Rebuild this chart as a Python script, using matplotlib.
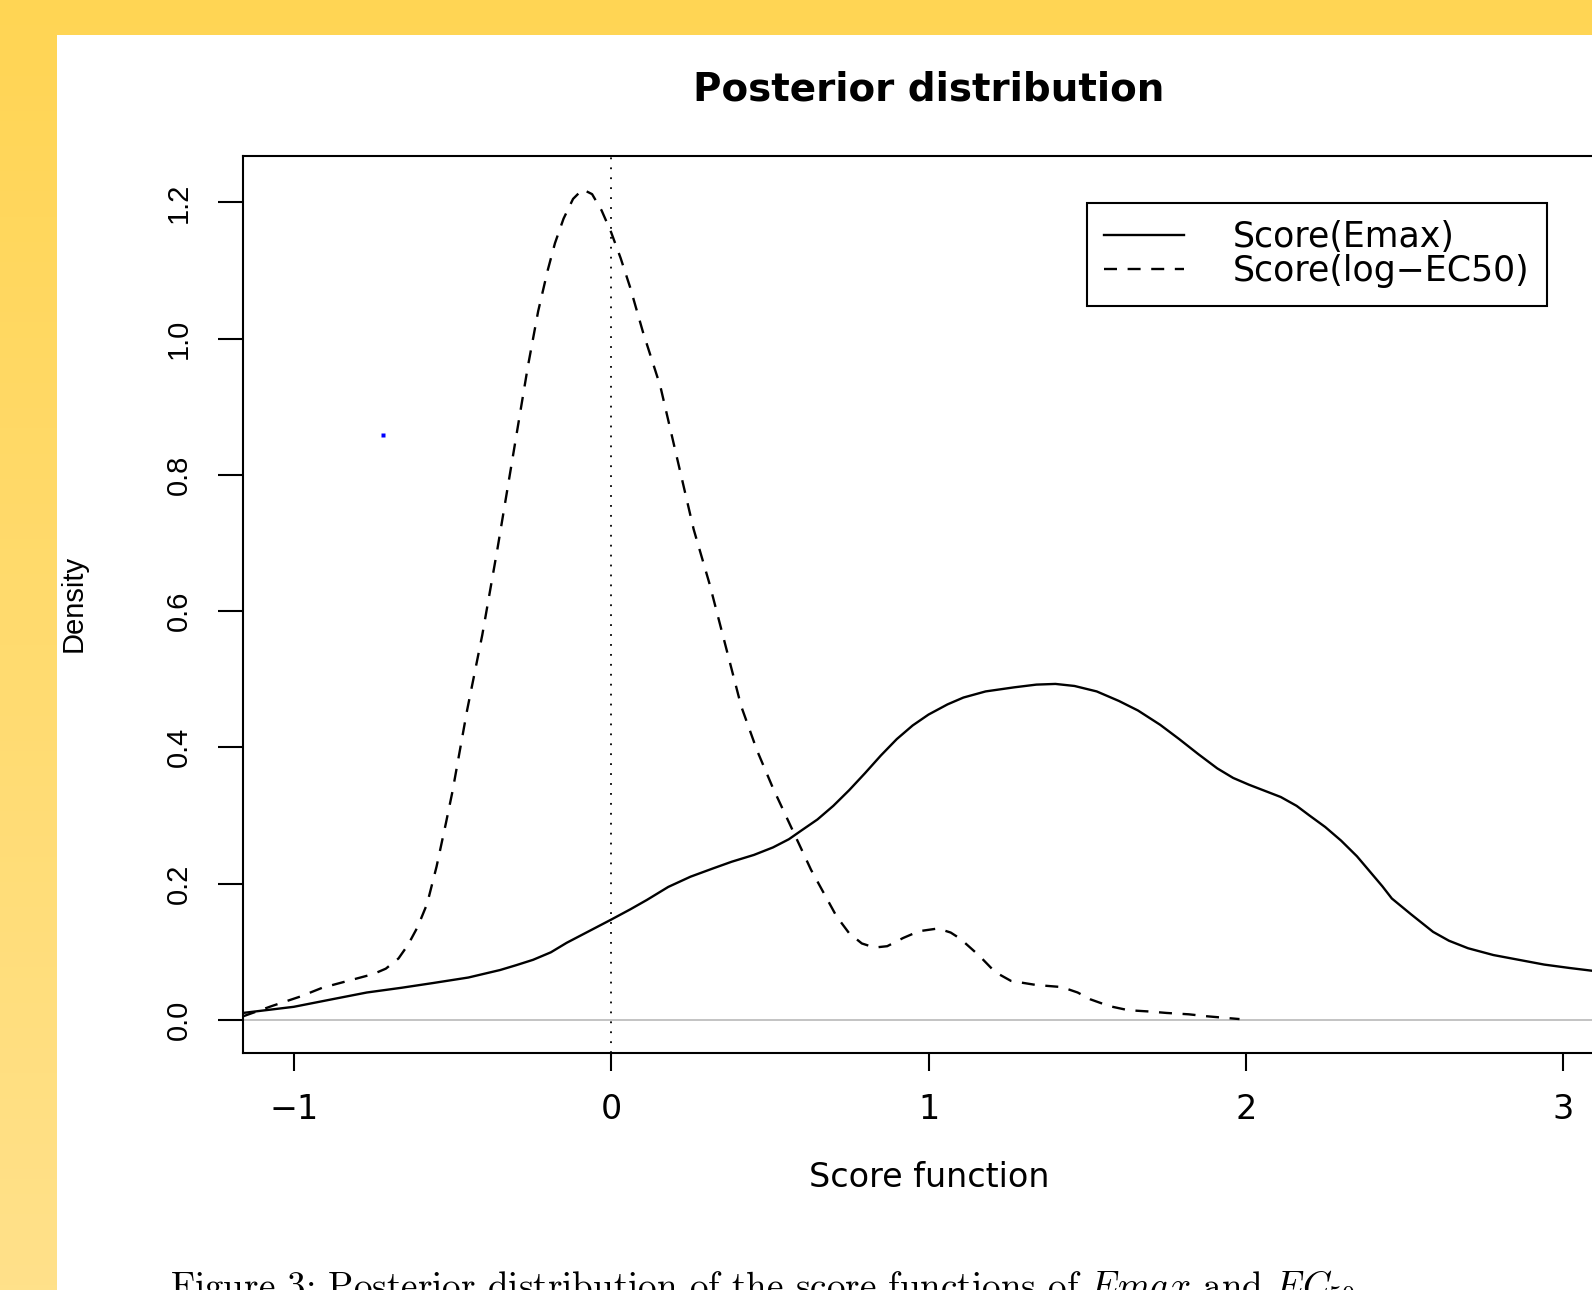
import numpy as np
import matplotlib
matplotlib.use("Agg")
import matplotlib.pyplot as plt
from matplotlib import font_manager
from matplotlib.patches import Rectangle

emax_x = [-1.16, -1.0, -0.88, -0.77, -0.66, -0.56, -0.45, -0.35, -0.30, -0.246,
          -0.19, -0.14, -0.07, 0.0, 0.06, 0.113, 0.18, 0.25, 0.32, 0.38, 0.45,
          0.51, 0.56, 0.60, 0.65, 0.70, 0.75, 0.80, 0.85, 0.90, 0.95, 1.00,
          1.06, 1.11, 1.18, 1.27, 1.34, 1.40, 1.46, 1.53, 1.60, 1.66, 1.73,
          1.79, 1.85, 1.91, 1.96, 2.01, 2.06, 2.11, 2.16, 2.20, 2.25, 2.30,
          2.35, 2.39, 2.43, 2.46, 2.52, 2.59, 2.64, 2.70, 2.78, 2.86, 2.94,
          3.02, 3.09, 3.16]
emax_y = [0.010, 0.019, 0.030, 0.040, 0.047, 0.054, 0.062, 0.073, 0.080, 0.088,
          0.099, 0.113, 0.130, 0.147, 0.162, 0.176, 0.195, 0.210, 0.222, 0.232,
          0.242, 0.253, 0.265, 0.278, 0.294, 0.314, 0.337, 0.362, 0.388, 0.412,
          0.432, 0.448, 0.463, 0.473, 0.482, 0.488, 0.492, 0.493, 0.490, 0.482,
          0.468, 0.454, 0.433, 0.412, 0.390, 0.369, 0.355, 0.345, 0.336, 0.327,
          0.314, 0.300, 0.283, 0.263, 0.240, 0.218, 0.196, 0.178, 0.155, 0.129,
          0.116, 0.105, 0.095, 0.088, 0.081, 0.076, 0.072, 0.066]

ec50_x = [-1.16, -1.07, -0.98, -0.91, -0.83, -0.75, -0.71, -0.67, -0.64, -0.61,
          -0.58, -0.55, -0.52, -0.50, -0.454, -0.406, -0.358, -0.31, -0.262,
          -0.23, -0.20, -0.177, -0.15, -0.12, -0.09, -0.06, -0.03, 0.0, 0.03,
          0.06, 0.10, 0.155, 0.21, 0.26, 0.31, 0.36, 0.41, 0.46, 0.51, 0.55,
          0.59, 0.63, 0.67, 0.71, 0.75, 0.79, 0.83, 0.87, 0.92, 0.97, 1.03,
          1.07, 1.10, 1.16, 1.21, 1.26, 1.34, 1.42, 1.47, 1.51, 1.57, 1.63,
          1.70, 1.75, 1.82, 1.88, 1.98]
ec50_y = [0.005, 0.020, 0.034, 0.047, 0.057, 0.067, 0.075, 0.090, 0.110, 0.136,
          0.170, 0.225, 0.290, 0.335, 0.454, 0.565, 0.692, 0.826, 0.960,
          1.040, 1.100, 1.140, 1.176, 1.205, 1.219, 1.212, 1.188, 1.156, 1.118,
          1.075, 1.010, 0.930, 0.820, 0.720, 0.640, 0.550, 0.460, 0.395, 0.340,
          0.300, 0.260, 0.220, 0.186, 0.152, 0.127, 0.112, 0.106, 0.108, 0.120,
          0.130, 0.134, 0.128, 0.119, 0.094, 0.070, 0.057, 0.051, 0.048, 0.040,
          0.030, 0.020, 0.014, 0.012, 0.010, 0.008, 0.005, 0.001]

punto_x = [-0.72]
punto_y = [0.858]

xticks = [-1, 0, 1, 2, 3]
yticks = [0.0, 0.2, 0.4, 0.6, 0.8, 1.0, 1.2]
etiquetas = ['Score(Emax)', 'Score(log\u2212EC50)']

plt.rcParams['font.family'] = ['DejaVu Sans']
plt.rcParams['mathtext.fontset'] = 'cm'

# textos verticales: fuente estrecha si está instalada
try:
    font_manager.findfont('Liberation Sans Narrow', fallback_to_default=False)
    VERT, VSIZE = ['Liberation Sans Narrow', 'DejaVu Sans'], 24
except ValueError:
    VERT, VSIZE = ['Liberation Sans', 'DejaVu Sans'], 21

W, H = 1592, 1290
fig = plt.figure(figsize=(W / 100, H / 100), dpi=100)

# ── Fondo amarillo con degradado y panel blanco ───────────────────────────────
bg = fig.add_axes([0, 0, 1, 1], zorder=-10)
top = np.array([255, 213, 84]) / 255
bot = np.array([255, 225, 138]) / 255
t = np.linspace(0, 1, 256)[:, None]
grad = (top[None, :] * (1 - t) + bot[None, :] * t)[:, None, :]
bg.imshow(grad, aspect='auto', extent=[0, 1, 0, 1], origin='upper')
bg.add_patch(Rectangle((57 / W, 0), 1, 1 - 35 / H, color='white', lw=0))
bg.set_xlim(0, 1)
bg.set_ylim(0, 1)
bg.axis('off')

# ── Gráfico de densidades ─────────────────────────────────────────────────────
ax = fig.add_axes([243 / W, 1 - 1053 / H, (1614 - 243) / W, (1053 - 156) / H])
ax.set_facecolor('white')
ax.set_xlim(-1.16, 3.16)
ax.set_ylim(-0.0488, 1.268)

ax.axhline(0, color='#bebebe', lw=1.3, zorder=1)
ax.axvline(0, color='black', lw=1.3, ls=(0, (1, 4.5)), zorder=2)
ax.plot(emax_x, emax_y, color='black', lw=1.7, label=etiquetas[0],
        zorder=3, solid_joinstyle='round')
ax.plot(ec50_x, ec50_y, color='black', lw=1.7, ls=(0, (5.5, 4.5)),
        label=etiquetas[1], zorder=3)
ax.plot(punto_x, punto_y, ls='none', marker='s', ms=2.5, color='blue',
        mec='none', zorder=4)

for s in ax.spines.values():
    s.set_linewidth(1.5)
    s.set_color('black')

ax.set_xticks(xticks, [f'{v:d}'.replace('-', '\u2212') for v in xticks])
ax.set_yticks(yticks, [f'{v:.1f}' for v in yticks], rotation=90,
              va='center', fontfamily=VERT)
ax.tick_params(axis='x', length=13, width=1.5, pad=16, labelsize=24)
ax.tick_params(axis='y', length=18, width=1.5, pad=18, labelsize=VSIZE)

ax.set_title('Posterior distribution', fontsize=28, fontweight='bold', pad=40)
fig.text(929 / W, 1 - 1187 / H, 'Score function', ha='center',
         va='baseline', fontsize=24)
fig.text(74 / W, 1 - 603 / H, 'Density', rotation=90, ha='center',
         va='center', fontsize=VSIZE, family=VERT)

leg = ax.legend(loc='upper left', bbox_to_anchor=(1087 / W, 1 - 203 / H),
                bbox_transform=fig.transFigure, borderaxespad=0,
                fontsize=25, frameon=True, fancybox=False, edgecolor='black',
                framealpha=1, handlelength=2.3, handletextpad=1.4,
                borderpad=0.5, labelspacing=0.0)
leg.get_frame().set_linewidth(1.5)

# ── Pie de figura ─────────────────────────────────────────────────────────────
fig.text(170 / W, 1 - 1298 / H,
         'Figure 3: Posterior distribution of the score functions of '
         r'$Emax$ and $EC_{50}$',
         ha='left', va='baseline', fontsize=26.7, family='cmr10')

fig.savefig('out.png', dpi=100)
